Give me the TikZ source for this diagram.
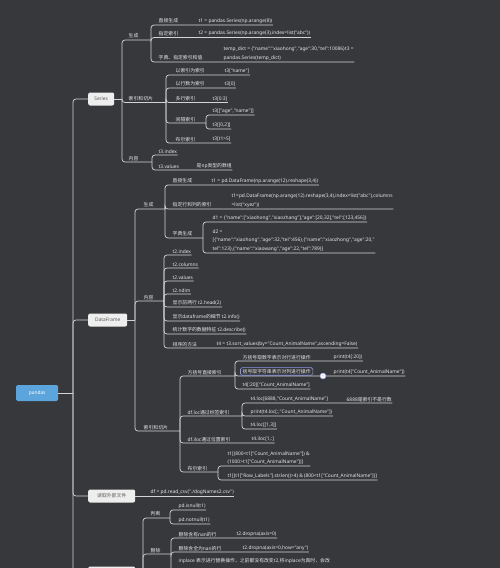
\documentclass[tikz,border=0pt]{standalone}
\usepackage{fontspec}
\setmainfont{Noto Sans}[Ligatures=TeXOff]
\newfontfamily\zhfont{Noto Sans CJK SC}[Ligatures=TeXOff]
\definecolor{bgcol}{RGB}{55,56,60}
\definecolor{txtcol}{RGB}{232,232,232}
\definecolor{lncol}{RGB}{212,212,212}
\definecolor{boxcol}{RGB}{238,238,238}
\definecolor{boxtxt}{RGB}{90,90,90}
\definecolor{rootcol}{RGB}{92,164,220}
\definecolor{selcol}{RGB}{140,150,230}
\newcommand{\mmfont}{\fontsize{4.85}{8.5}\selectfont}
\newcommand{\zh}[1]{{\zhfont #1}}
\tikzset{
topic/.style={anchor=south west, inner xsep=0.5pt, inner ysep=1.4pt, text=txtcol, font=\mmfont, align=left},
branch/.style={draw=lncol, line width=0.7pt, rounded corners=3pt},
mainbox/.style={anchor=west, fill=boxcol, text=boxtxt, font=\mmfont, rounded corners=2pt, minimum height=13pt, inner sep=1pt},
rootbox/.style={anchor=west, fill=rootcol, text=white, font=\mmfont, rounded corners=1.5pt, minimum width=42pt, minimum height=16pt},
selbox/.style={draw=selcol, line width=0.6pt, rounded corners=1.5pt},
foldmark/.style={circle, fill=white, draw=selcol, line width=0.4pt, inner sep=0pt, minimum size=6pt, text=selcol, font=\fontsize{4}{4}\selectfont\bfseries}
}
\begin{document}
\begin{tikzpicture}[x=1pt,y=-1pt]
\clip (0,0) rectangle (500,568);
\fill[bgcol] (0,0) rectangle (500,568);

% root and main topics
\node[rootbox] (pandas) at (16,393) {pandas};
\node[mainbox, minimum width=26pt] (series) at (88,99) {Series};
\node[mainbox, minimum width=39pt] (dframe) at (88,320) {DataFrame};
\node[mainbox, minimum width=47pt] (readfile) at (88,496) {\zh{读取外部文件}};
\node[mainbox, minimum width=47pt] (clean) at (88,573) {};
\coordinate (trunk) at (73,393);
\draw[branch] (pandas.east) -- (trunk);
\foreach \t in {series,dframe,readfile,clean}
  \draw[branch] (trunk) |- (\t.west);

% Series
\coordinate (sJ) at (122,99);
\coordinate (sGenJ) at (151,40);
\coordinate (sIdxJ) at (166,102.5);
\coordinate (sContJ) at (152,162);
\draw[branch] (series.east) -- (sJ);
\foreach \c in {sGenJ,sIdxJ,sContJ}
  \draw[branch] (sJ) |- (\c);
\node[topic] (sGen) at (128,40) {\zh{生成}};
\node[topic] (sIdx) at (128,102.5) {\zh{索引和切片}};
\node[topic] (sCont) at (128,162) {\zh{内容}};

\node[topic] (sGenA) at (158,25) {\zh{直接生成}};
\node[topic] (sGenAv) at (198,25) {t1 = pandas.Series(np.arange(8))};
\node[topic] (sGenB) at (158,37.5) {\zh{指定索引}};
\node[topic] (sGenBv) at (198,37.5) {t2 = pandas.Series(np.arange(3),index=list("abc"))};
\node[topic] (sGenC) at (158,62) {\zh{字典、指定索引和值}};
\node[topic] (sGenCv) at (223,62) {temp\_dict = \{"name":"xiaohong","age":30,"tel":10086\}t3 =\\pandas.Series(temp\_dict)};
\foreach \c in {sGenAv,sGenBv,sGenCv}
  \draw[branch] (sGenJ) |- (\c.south east);

\node[topic] (sIdxA) at (175,75) {\zh{以索引为索引}};
\node[topic] (sIdxAv) at (224,75) {t3["name"]};
\node[topic] (sIdxB) at (175,88) {\zh{以行数为索引}};
\node[topic] (sIdxBv) at (224,88) {t3[0]};
\node[topic] (sIdxC) at (175,102.5) {\zh{多行索引}};
\node[topic] (sIdxCv) at (212,102.5) {t3[0:3]};
\node[topic] (sIdxD) at (175,123) {\zh{间隔索引}};
\node[topic] (sIdxE) at (175,143) {\zh{布尔索引}};
\node[topic] (sIdxEv) at (212,143) {t3[t1>5]};
\coordinate (sIdxDJ) at (206,123);
\foreach \c in {sIdxAv,sIdxBv,sIdxCv,sIdxEv}
  \draw[branch] (sIdxJ) |- (\c.south east);
\draw[branch] (sIdxJ) |- (sIdxDJ);
\node[topic] (sIdxDa) at (212,115) {t3[["age","name"]]};
\node[topic] (sIdxDb) at (212,129) {t3[[0,2]]};
\foreach \c in {sIdxDa,sIdxDb}
  \draw[branch] (sIdxDJ) |- (\c.south east);

\node[topic] (sContA) at (158,155) {t3.index};
\node[topic] (sContB) at (158,170) {t3.values};
\node[topic] (sContBv) at (196,170) {\zh{是np类型的数组}};
\draw[branch] (sContJ) |- (sContA.south east);
\draw[branch] (sContJ) |- (sContBv.south east);

% DataFrame
\coordinate (dJ) at (135,320);
\coordinate (dGenJ) at (165,209);
\coordinate (dContJ) at (164,301);
\coordinate (dIdxJ) at (180,431);
\draw[branch] (dframe.east) -- (dJ);
\foreach \c in {dGenJ,dContJ,dIdxJ}
  \draw[branch] (dJ) |- (\c);
\node[topic] (dGen) at (143,209) {\zh{生成}};
\node[topic] (dCont) at (143,301) {\zh{内容}};
\node[topic] (dIdx) at (143,431) {\zh{索引和切片}};

\node[topic] (dGenA) at (172,185) {\zh{直接生成}};
\node[topic] (dGenAv) at (211,185) {t1 = pd.DataFrame(np.arange(12).reshape(3,4))};
\node[topic] (dGenB) at (172,209) {\zh{指定行和列的索引}};
\node[topic] (dGenBv) at (231,209) {t1=pd.DataFrame(np.arange(12).reshape(3,4),index=list("abc"),columns\\=list("xyez"))};
\node[topic] (dGenC) at (172,238) {\zh{字典生成}};
\coordinate (dGenCJ) at (203,238);
\draw[branch] (dGenJ) |- (dGenAv.south east);
\draw[branch] (dGenJ) |- (dGenBv.south east);
\draw[branch] (dGenJ) |- (dGenCJ);
\node[topic] (dGenCa) at (212,222) {d1 = \{"name":["xiaohong","xiaozhang"],"age":[20,32],"tel":[123,456]\}};
\node[topic] (dGenCb) at (212,253) {d2 =\\{}[\{"name":"xiaohong","age":32,"tel":456\},\{"name":"xiaozhong","age":20,"\\tel":123\},\{"name":"xiaowang","age":22,"tel":789\}]};
\draw[branch] (dGenCJ) |- (dGenCa.south east);
\draw[branch] (dGenCJ) |- (dGenCb.south east);

\node[topic] (dContA) at (172,255) {t2.index};
\node[topic] (dContB) at (172,268) {t2.columns};
\node[topic] (dContC) at (172,281) {t2.values};
\node[topic] (dContD) at (172,294) {t2.ndim};
\node[topic] (dContE) at (172,307) {\zh{显示前两行} t2.head(2)};
\node[topic] (dContF) at (172,321) {\zh{显示}dataframe\zh{的细节} t2.info()};
\node[topic] (dContG) at (172,334) {\zh{统计数字的数据特征} t2.describe()};
\node[topic] (dContH) at (172,348) {\zh{排序的方法}};
\node[topic] (dContHv) at (216,348) {t4 = t3.sort\_values(by="Count\_AnimalName",ascending=False)};
\foreach \c in {dContA,dContB,dContC,dContD,dContE,dContF,dContG,dContHv}
  \draw[branch] (dContJ) |- (\c.south east);

\node[topic] (dSq) at (187,376) {\zh{方括号直接索引}};
\coordinate (dSqJ) at (235,376);
\node[topic] (dSqA) at (242,361) {\zh{方括号取数字表示对行进行操作}};
\node[topic] (dSqAv) at (333,361) {print(t4[:20])};
\node[topic] (dSqB) at (242,376) {\zh{括号取字符串表示对列进行操作}};
\node[topic] (dSqBv) at (333,376) {print(t4["Count\_AnimalName"])};
\node[topic] (dSqC) at (242,389) {t4[:20]["Count\_AnimalName"]};
\node[topic] (dLoc) at (187,416) {df.loc\zh{通过标签索引}};
\coordinate (dLocJ) at (242,416);
\node[topic] (dLocA) at (250,403) {t4.loc[6888,"Count\_AnimalName"]};
\node[topic] (dLocAv) at (346,403) {6888\zh{是索引不是行数}};
\node[topic] (dLocB) at (250,416) {print(t4.loc[:,"Count\_AnimalName"])};
\node[topic] (dLocC) at (250,429) {t4.loc[[1,3]]};
\node[topic] (dIloc) at (187,443) {df.iloc\zh{通过位置索引}};
\node[topic] (dIlocv) at (251,443) {t4.iloc[1,:]};
\node[topic] (dBool) at (187,472) {\zh{布尔索引}};
\coordinate (dBoolJ) at (218,472);
\node[topic] (dBoolA) at (227,466) {t1[(800<t1["Count\_AnimalName"]) \&\\(1000>t1["Count\_AnimalName"])]};
\node[topic] (dBoolB) at (227,480) {t1[(t1["Row\_Labels"].str.len()>4) \& (800<t1["Count\_AnimalName"])]};
\foreach \c in {dSqJ,dLocJ,dBoolJ}
  \draw[branch] (dIdxJ) |- (\c);
\draw[branch] (dIdxJ) |- (dIlocv.south east);
\foreach \c in {dSqAv,dSqBv,dSqC}
  \draw[branch] (dSqJ) |- (\c.south east);
\foreach \c in {dLocAv,dLocB,dLocC}
  \draw[branch] (dLocJ) |- (\c.south east);
\foreach \c in {dBoolA,dBoolB}
  \draw[branch] (dBoolJ) |- (\c.south east);
\draw[selbox] ([xshift=-1.5pt,yshift=0.8pt]dSqB.south west) rectangle ([xshift=1.5pt,yshift=0.6pt]dSqB.north east);
\node[foldmark] (fold) at (323,376) {<};

% read file
\node[topic] (rfLeaf) at (150,496) {df = pd.read\_csv("./dogNames2.csv")};
\draw[branch] (readfile.east) -- (rfLeaf.south east);

% last topic
\coordinate (cJ) at (143,573);
\coordinate (cJudJ) at (170,518);
\coordinate (cDelJ) at (171,554);
\draw[branch] (clean.east) -- (cJ);
\draw[branch] (cJ) |- (cJudJ);
\draw[branch] (cJ) |- (cDelJ);
\node[topic] (cJud) at (150,518) {\zh{判断}};
\node[topic] (cDel) at (150,554) {\zh{删除}};
\node[topic] (cJudA) at (178,510) {pd.isnull(t1)};
\node[topic] (cJudB) at (178,524) {pd.notnull(t1)};
\draw[branch] (cJudJ) |- (cJudA.south east);
\draw[branch] (cJudJ) |- (cJudB.south east);
\node[topic] (cDelA) at (178,538) {\zh{删除含有}nan\zh{的行}};
\node[topic] (cDelAv) at (236,538) {t2.dropna(axis=0)};
\node[topic] (cDelB) at (178,552) {\zh{删除含全为}nan\zh{的行}};
\node[topic] (cDelBv) at (242,552) {t2.dropna(axis=0,how="any")};
\node[topic, anchor=north west] (cDelC) at (178,557) {inplace \zh{表示进行替换操作，之前都没有改变}t2,\zh{将}inplace\zh{为真时，会改}};
\draw[branch] (cDelJ) |- (cDelAv.south east);
\draw[branch] (cDelJ) |- (cDelBv.south east);
\draw[branch] (cDelJ) |- ([yshift=-6pt]cDelC.south east);
\end{tikzpicture}
\end{document}
